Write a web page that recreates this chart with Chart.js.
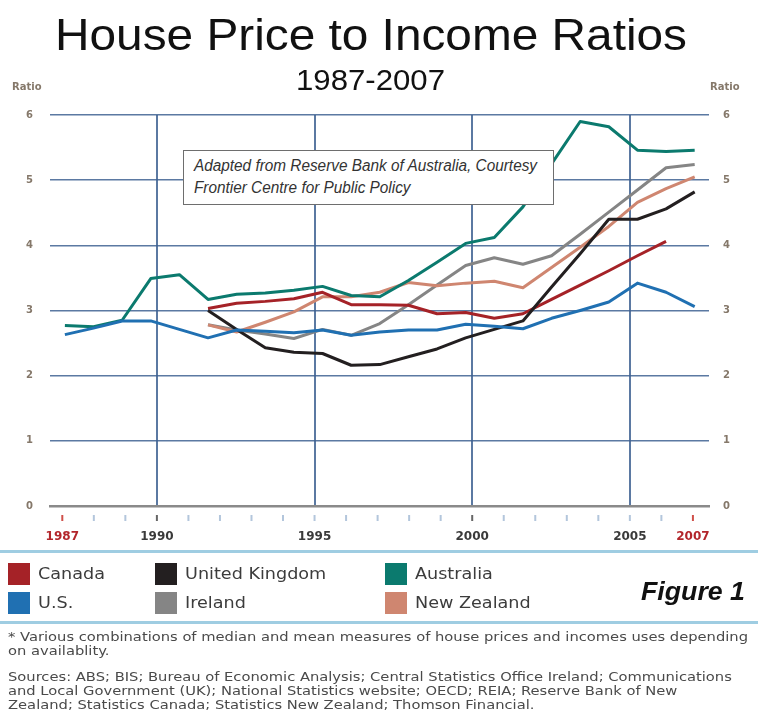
<!DOCTYPE html>
<html>
<head>
<meta charset="utf-8">
<title>House Price to Income Ratios</title>
<script src="https://cdn.jsdelivr.net/npm/chart.js@4.4.0/dist/chart.umd.min.js"></script>
<style>
    body { margin: 0; background: #fff; }
    #wrap { position: relative; width: 758px; height: 715px; overflow: hidden; font-family: 'DejaVu Sans', sans-serif; }
    #chart { position: absolute; left: 0; top: 0; }
    .abs { position: absolute; white-space: nowrap; transform-origin: 0 0; }
    .title { font-family: 'Liberation Sans', Arial, sans-serif; color: #111; }
    .ratio { font-size: 10px; font-weight: bold; color: #85786a; line-height: 12px; }
    #note { position: absolute; left: 183px; top: 150px; width: 369px; height: 53px; background: #fff; border: 1.5px solid #6e6e6e; }
    .note { font-family: 'Liberation Sans Narrow', 'Liberation Sans', sans-serif; font-style: italic; font-size: 16px; color: #333; line-height: 18px; }
    .rule { position: absolute; left: 0; width: 758px; height: 3px; background: #9fcde2; }
    .swatch { position: absolute; width: 22px; height: 22px; }
    .legend { font-size: 16px; color: #3c3c3c; line-height: 20px; }
    .foot { font-size: 12px; color: #4a4a4a; line-height: 14px; }
</style>
</head>
<body>
<div id="wrap">
    <canvas id="chart" width="758" height="715"></canvas>

    <div class="abs title" id="title" style="top: 11px; font-size: 44px; line-height: 48px;">House Price to Income Ratios</div>
    <div class="abs title" id="subtitle" style="top: 64px; font-size: 29px; line-height: 32px;">1987-2007</div>
    <div class="abs ratio" style="left: 12px; top: 81px;">Ratio</div>
    <div class="abs ratio" style="left: 710px; top: 81px;">Ratio</div>

    <div id="note">
        <div class="abs note" id="note1" style="left: 10px; top: 6px;">Adapted from Reserve Bank of Australia, Courtesy</div>
        <div class="abs note" id="note2" style="left: 10px; top: 28px;">Frontier Centre for Public Policy</div>
    </div>

    <div class="rule" style="top: 550px;"></div>
    <div id="legend"></div>
    <div class="abs" id="figure" style="left: 641px; top: 576px; font-family: 'Liberation Sans', Arial, sans-serif; font-weight: bold; font-style: italic; font-size: 26px; line-height: 30px; color: #111;">Figure 1</div>
    <div class="rule" style="top: 621px;"></div>

    <div class="abs foot" style="left: 8px; top: 630px;">* Various combinations of median and mean measures of house prices and incomes uses depending</div>
    <div class="abs foot" style="left: 8px; top: 644px;">on availablity.</div>
    <div class="abs foot" style="left: 8px; top: 670px;">Sources: ABS; BIS; Bureau of Economic Analysis; Central Statistics Office Ireland; Communications</div>
    <div class="abs foot" style="left: 8px; top: 684px;">and Local Government (UK); National Statistics website; OECD; REIA; Reserve Bank of New</div>
    <div class="abs foot" style="left: 8px; top: 698px;">Zealand; Statistics Canada; Statistics New Zealand; Thomson Financial.</div>
</div>

<script>
// Year ticks along the bottom axis
const yearTicks = [1987, 1988, 1989, 1990, 1991, 1992, 1993, 1994, 1995, 1996, 1997,
                   1998, 1999, 2000, 2001, 2002, 2003, 2004, 2005, 2006, 2007];
const labelledYears = [1987, 1990, 1995, 2000, 2005, 2007];
const gridYears = [1990, 1995, 2000, 2005];
const redYears = [1987, 2007];

// The lines are drawn at 23 evenly spaced points between the 1987 and 2007 marks
const canada    = [null, null, null, null, null, 3.03, 3.11, 3.14, 3.18, 3.28, 3.09, 3.09,
                   3.08, 2.95, 2.97, 2.88, 2.95, 3.17, 3.39, 3.61, 3.84, 4.06, null];
const uk        = [null, null, null, null, null, 3.00, 2.71, 2.43, 2.36, 2.34, 2.16, 2.17,
                   2.29, 2.41, 2.58, 2.71, 2.84, 3.36, 3.87, 4.40, 4.40, 4.56, 4.82];
const australia = [2.77, 2.75, 2.85, 3.49, 3.55, 3.17, 3.25, 3.27, 3.31, 3.37, 3.23, 3.21,
                   3.46, 3.74, 4.03, 4.12, 4.59, 5.25, 5.90, 5.82, 5.46, 5.44, 5.46];
const us        = [2.63, 2.73, 2.84, 2.84, 2.71, 2.58, 2.70, 2.68, 2.66, 2.70, 2.62, 2.67,
                   2.70, 2.70, 2.79, 2.76, 2.72, 2.88, 3.00, 3.13, 3.42, 3.28, 3.06];
const ireland   = [null, null, null, null, null, 2.78, 2.70, 2.64, 2.57, 2.71, 2.62, 2.80,
                   3.09, 3.39, 3.69, 3.81, 3.71, 3.84, 4.17, 4.51, 4.85, 5.19, 5.24];
const newZealand = [null, null, null, null, null, 2.78, 2.67, 2.82, 2.98, 3.21, 3.21, 3.28,
                   3.43, 3.38, 3.42, 3.45, 3.35, 3.66, 3.97, 4.29, 4.66, 4.87, 5.05];

const series = [
    { name: 'Canada', data: canada, color: '#a52227' },
    { name: 'United Kingdom', data: uk, color: '#231f20' },
    { name: 'Australia', data: australia, color: '#0b7a6e' },
    { name: 'U.S.', data: us, color: '#2070b2' },
    { name: 'Ireland', data: ireland, color: '#858585' },
    { name: 'New Zealand', data: newZealand, color: '#cf8670' }
];

// stacking order of the lines (lower is drawn on top)
const drawOrder = { 'U.S.': 1, 'United Kingdom': 2, 'Canada': 3, 'Australia': 4, 'New Zealand': 5, 'Ireland': 6 };

const gridBlue = 'rgba(62, 98, 146, 0.85)';

function toPoints(values) {
    return values.map(function(v, i) { return { x: i, y: v }; });
}

// small tick marks under the axis line, one per year
const yearMarks = {
    id: 'yearMarks',
    afterDraw(chart) {
        const scale = chart.scales.years;
        const ctx = chart.ctx;
        const base = chart.chartArea.bottom;
        ctx.save();
        ctx.lineWidth = 2;
        yearTicks.forEach(function(year) {
            const x = scale.getPixelForValue(year);
            if (redYears.includes(year)) ctx.strokeStyle = '#d0504a';
            else if (year === 1990 || year === 2000) ctx.strokeStyle = '#666';
            else ctx.strokeStyle = '#b3c6dc';
            ctx.beginPath();
            ctx.moveTo(x, base + 9);
            ctx.lineTo(x, base + 15);
            ctx.stroke();
        });
        ctx.restore();
    }
};

new Chart(document.getElementById('chart'), {
    type: 'line',
    data: {
        datasets: series.map(function(s) {
            return {
                label: s.name,
                data: toPoints(s.data),
                borderColor: s.color,
                backgroundColor: s.color,
                borderWidth: 3,
                pointRadius: 0,
                tension: 0,
                spanGaps: false,
                borderJoinStyle: 'round',
                order: drawOrder[s.name],
                xAxisID: 'xs',
                yAxisID: 'y'
            };
        })
    },
    options: {
        responsive: false,
        animation: false,
        layout: { padding: { top: 115, left: 0, right: 0, bottom: 0 } },
        plugins: {
            legend: { display: false },
            tooltip: { enabled: false }
        },
        scales: {
            xs: {
                type: 'linear',
                display: false,
                min: -0.52,
                max: 22.5
            },
            years: {
                type: 'linear',
                position: 'bottom',
                min: 1986.61,
                max: 2007.51,
                afterBuildTicks: function(scale) {
                    scale.ticks = yearTicks.map(function(v) { return { value: v }; });
                },
                afterFit: function(scale) { scale.height = 209; },
                grid: {
                    drawTicks: false,
                    lineWidth: 2,
                    color: function(ctx) {
                        return ctx.tick && gridYears.includes(ctx.tick.value) ? gridBlue : 'transparent';
                    }
                },
                border: { display: true, color: '#8a8a8a', width: 2.5 },
                ticks: {
                    autoSkip: false,
                    maxRotation: 0,
                    padding: 24,
                    font: { family: 'DejaVu Sans', size: 12, weight: 'bold' },
                    color: function(ctx) {
                        return redYears.includes(ctx.tick.value) ? '#b3262b' : '#3a3a3a';
                    },
                    callback: function(value) {
                        return labelledYears.includes(value) ? String(value) : '';
                    }
                }
            },
            y: {
                position: 'left',
                min: 0,
                max: 6,
                afterFit: function(scale) { scale.width = 50; },
                grid: {
                    drawTicks: false,
                    lineWidth: 1.6,
                    color: function(ctx) {
                        return ctx.tick && ctx.tick.value === 0 ? 'transparent' : gridBlue;
                    }
                },
                border: { display: false },
                ticks: {
                    stepSize: 1,
                    padding: 17,
                    font: { family: 'DejaVu Sans', size: 10, weight: 'bold' },
                    color: '#85786a'
                }
            },
            y2: {
                position: 'right',
                min: 0,
                max: 6,
                afterFit: function(scale) { scale.width = 49; },
                grid: { display: false, drawTicks: false },
                border: { display: false },
                ticks: {
                    stepSize: 1,
                    padding: 14,
                    font: { family: 'DejaVu Sans', size: 10, weight: 'bold' },
                    color: '#85786a'
                }
            }
        }
    },
    plugins: [yearMarks]
});

// legend, built from the series list
const legendSpots = {
    'Canada': [8, 563], 'United Kingdom': [155, 563], 'Australia': [385, 563],
    'U.S.': [8, 592], 'Ireland': [155, 592], 'New Zealand': [385, 592]
};
const legend = document.getElementById('legend');
series.forEach(function(s) {
    const spot = legendSpots[s.name];
    const sw = document.createElement('div');
    sw.className = 'swatch';
    sw.style.left = spot[0] + 'px';
    sw.style.top = spot[1] + 'px';
    sw.style.background = s.color;
    legend.appendChild(sw);
    const txt = document.createElement('div');
    txt.className = 'abs legend';
    txt.textContent = s.name;
    txt.style.left = (spot[0] + 30) + 'px';
    txt.style.top = (spot[1] + 1) + 'px';
    txt.style.transform = 'scaleX(1.1)';
    legend.appendChild(txt);
});

// stretch text horizontally to the widths seen in the picture
function fitWidth(el, width, center) {
    const natural = el.getBoundingClientRect().width;
    el.style.transform = 'scaleX(' + (width / natural) + ')';
    if (center !== undefined) el.style.left = (center - width / 2) + 'px';
    return width / natural;
}
fitWidth(document.getElementById('title'), 632, 371);
fitWidth(document.getElementById('subtitle'), 149, 370);
const noteScale = fitWidth(document.getElementById('note1'), 343);
document.getElementById('note2').style.transform = 'scaleX(' + noteScale + ')';
fitWidth(document.getElementById('figure'), 104);
const feet = document.querySelectorAll('.foot');
const footScale = 740 / feet[0].getBoundingClientRect().width;
feet.forEach(function(el) { el.style.transform = 'scaleX(' + footScale + ')'; });
</script>
</body>
</html>
